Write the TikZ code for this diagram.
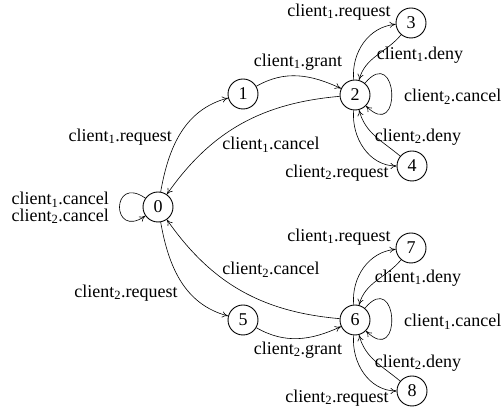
\documentclass[tikz,border=0pt]{standalone}
\usepackage{fontspec}
\setmainfont{Liberation Serif}
\usetikzlibrary{arrows.meta}
\begin{document}
\begin{tikzpicture}[x=1pt,y=1pt,
  state/.style={circle,draw,line width=0.9pt,minimum size=30pt,inner sep=0pt,font=\rmfamily\fontsize{18}{20}\selectfont},
  lbl/.style={font=\rmfamily\fontsize{18}{16.5}\selectfont,inner sep=1pt},
  tr/.style={-{To[length=6pt,width=6pt]},line width=0.6pt},
  lp/.style={loop,min distance=42pt},
  lpr/.style={loop,min distance=52pt}]
\useasboundingbox (0,0) rectangle (504,409);
\node[state] (n0) at (158,202) {0};
\node[state] (n1) at (243,315) {1};
\node[state] (n2) at (355,314) {2};
\node[state] (n3) at (411,386) {3};
\node[state] (n4) at (412,243) {4};
\node[state] (n5) at (243,89) {5};
\node[state] (n6) at (355,89) {6};
\node[state] (n7) at (411,161) {7};
\node[state] (n8) at (412,18) {8};
% edges
\draw[tr] (n0) to[out=80,in=195] (n1);
\draw[tr] (n2) to[out=185,in=55] (n0);
\draw[tr] (n1) to[out=30,in=155] (n2);
\draw[tr] (n2) to[out=95,in=185] (n3);
\draw[tr] (n3) to[out=230,in=75] (n2);
\draw[tr] (n2) to[out=50,in=-45,lpr] (n2);
\draw[tr] (n4) to[out=140,in=-75] (n2);
\draw[tr] (n2) to[out=-95,in=180] (n4);
\draw[tr] (n0) to[out=145,in=215,lp] (n0);
\draw[tr] (n0) to[out=-80,in=165] (n5);
\draw[tr] (n6) to[out=175,in=-55] (n0);
\draw[tr] (n5) to[out=-30,in=205] (n6);
\draw[tr] (n6) to[out=95,in=185] (n7);
\draw[tr] (n7) to[out=230,in=75] (n6);
\draw[tr] (n6) to[out=50,in=-45,lpr] (n6);
\draw[tr] (n8) to[out=140,in=-75] (n6);
\draw[tr] (n6) to[out=-95,in=180] (n8);
% labels
\node[lbl,anchor=east] (l01) at (173,272) {client\textsubscript{1}.request};
\node[lbl] (l20) at (271,264) {client\textsubscript{1}.cancel};
\node[lbl] (l12) at (298,347) {client\textsubscript{1}.grant};
\node[lbl] (l23) at (339,397) {client\textsubscript{1}.request};
\node[lbl] (l32) at (420,354) {client\textsubscript{1}.deny};
\node[lbl,anchor=west] (l22) at (403,312) {client\textsubscript{2}.cancel};
\node[lbl] (l42) at (418,272) {client\textsubscript{2}.deny};
\node[lbl] (l24) at (337,236) {client\textsubscript{2}.request};
\node[lbl,anchor=east,align=right] (l00) at (110,201) {client\textsubscript{1}.cancel\\client\textsubscript{2}.cancel};
\node[lbl] (l05) at (126,116) {client\textsubscript{2}.request};
\node[lbl] (l60) at (271,139) {client\textsubscript{2}.cancel};
\node[lbl] (l56) at (298,59) {client\textsubscript{2}.grant};
\node[lbl] (l67) at (339,172) {client\textsubscript{1}.request};
\node[lbl] (l76) at (418,131) {client\textsubscript{1}.deny};
\node[lbl,anchor=west] (l66) at (403,87) {client\textsubscript{1}.cancel};
\node[lbl] (l86) at (418,46) {client\textsubscript{2}.deny};
\node[lbl] (l68) at (337,11) {client\textsubscript{2}.request};
\end{tikzpicture}
\end{document}
